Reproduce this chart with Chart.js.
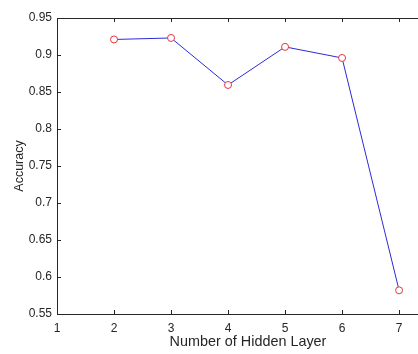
<!DOCTYPE html>
<html>
<head>
<meta charset="utf-8">
<script src="https://cdn.jsdelivr.net/npm/chart.js@4/dist/chart.umd.min.js"></script>
<style>
  html, body { margin: 0; padding: 0; background: #fff; overflow: hidden; }
  /* the original figure is wider than the crop: the box runs past the right edge */
  #wrap { width: 444px; height: 354px; }
</style>
</head>
<body>
<div id="wrap"><canvas id="accChart"></canvas></div>
<script>
// data
const layers = [2, 3, 4, 5, 6, 7];
const accuracy = [0.921, 0.923, 0.8595, 0.911, 0.896, 0.582];
const xTicks = [1, 2, 3, 4, 5, 6, 7];
const yTicks = [0.55, 0.6, 0.65, 0.7, 0.75, 0.8, 0.85, 0.9, 0.95];

const axisColor = '#262626';
const fontFamily = '"Liberation Sans", Arial, sans-serif';

// inward tick marks + top box edge, matlab style
const boxTicks = {
    id: 'boxTicks',
    afterDraw(chart) {
        const ctx = chart.ctx;
        const area = chart.chartArea;
        const xs = chart.scales.x;
        const ys = chart.scales.y;
        ctx.save();
        ctx.strokeStyle = axisColor;
        ctx.lineWidth = 1;
        ctx.beginPath();
        ctx.moveTo(area.left, area.top + 0.5);
        ctx.lineTo(area.right, area.top + 0.5);
        xs.ticks.forEach(t => {
            const px = Math.round(xs.getPixelForValue(t.value)) + 0.5;
            ctx.moveTo(px, area.bottom);
            ctx.lineTo(px, area.bottom - 4);
            ctx.moveTo(px, area.top);
            ctx.lineTo(px, area.top + 4);
        });
        ys.ticks.forEach(t => {
            const py = Math.round(ys.getPixelForValue(t.value)) + 0.5;
            ctx.moveTo(area.left, py);
            ctx.lineTo(area.left + 4, py);
        });
        ctx.stroke();
        ctx.restore();
    }
};

new Chart(document.getElementById('accChart'), {
    type: 'line',
    data: {
        datasets: [{
            data: layers.map((l, i) => ({ x: l, y: accuracy[i] })),
            borderColor: '#2b2bd6',
            borderWidth: 1,
            pointRadius: 3.5,
            pointBorderWidth: 1,
            pointBorderColor: '#e8343c',
            pointBackgroundColor: '#ffffff',
            tension: 0
        }]
    },
    options: {
        responsive: true,
        maintainAspectRatio: false,
        animation: false,
        layout: { padding: { top: 18, left: 0, right: 0, bottom: 0 } },
        plugins: {
            legend: { display: false },
            tooltip: { enabled: false }
        },
        scales: {
            x: {
                type: 'linear',
                min: 1,
                max: 7.7,
                grid: { display: false, drawTicks: false },
                border: { display: true, color: axisColor, width: 1 },
                afterBuildTicks: (scale) => {
                    scale.ticks = xTicks.map(v => ({ value: v }));
                },
                afterFit: (scale) => { scale.height = 40; },
                ticks: {
                    padding: 7,
                    color: axisColor,
                    font: { family: fontFamily, size: 12 },
                    maxRotation: 0
                },
                title: {
                    display: true,
                    text: 'Number of Hidden Layer',
                    color: axisColor,
                    font: { family: fontFamily, size: 14.4 },
                    padding: { top: 0, bottom: 3 }
                }
            },
            y: {
                min: 0.55,
                max: 0.95,
                grid: { display: false, drawTicks: false },
                border: { display: true, color: axisColor, width: 1 },
                afterBuildTicks: (scale) => {
                    scale.ticks = yTicks.map(v => ({ value: v }));
                },
                afterFit: (scale) => { scale.width = 57; },
                ticks: {
                    padding: 5,
                    color: axisColor,
                    font: { family: fontFamily, size: 12 },
                    callback: (v) => String(+v.toFixed(2))
                },
                title: {
                    display: true,
                    text: 'Accuracy',
                    color: axisColor,
                    font: { family: fontFamily, size: 12.5 },
                    padding: { top: 12, bottom: 0 }
                }
            }
        }
    },
    plugins: [boxTicks]
});
</script>
</body>
</html>
